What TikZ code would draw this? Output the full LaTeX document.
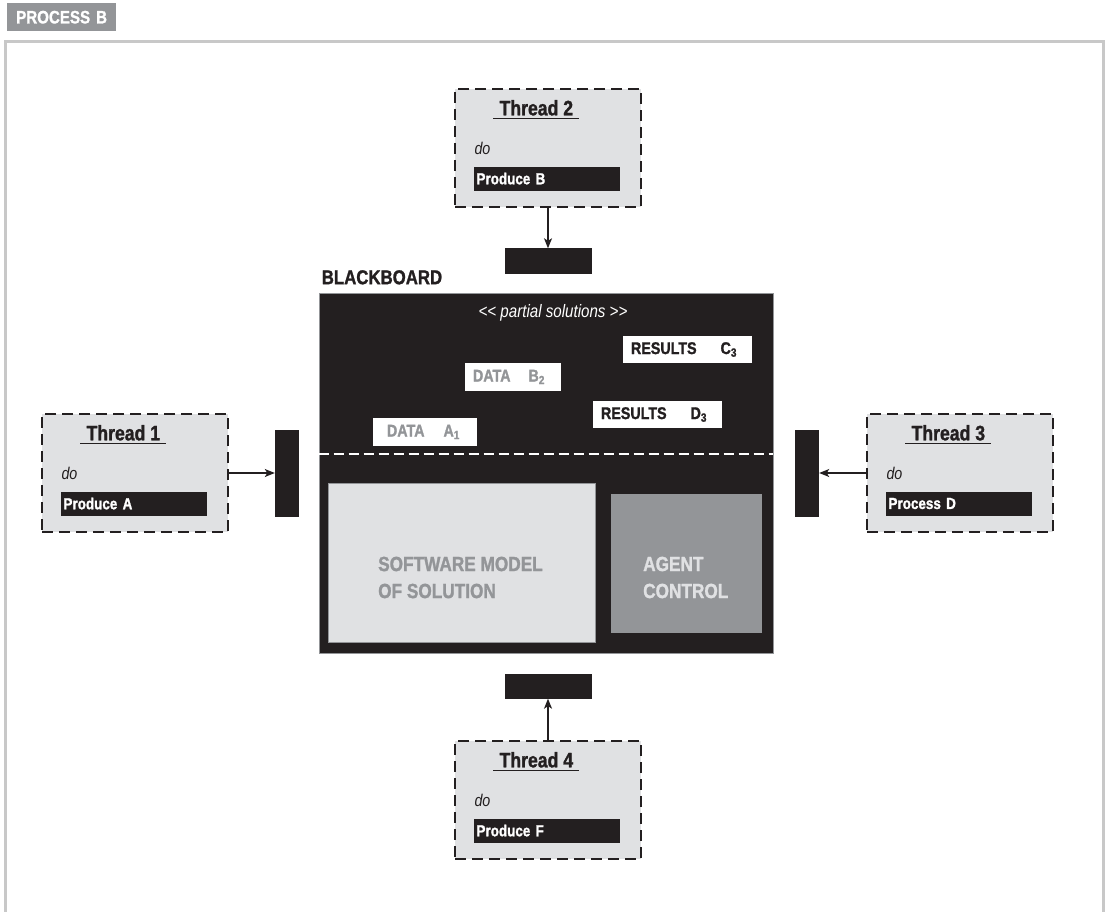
\documentclass[tikz,border=0pt]{standalone}
\usepackage{fontspec}
\setmainfont{Liberation Sans}[FakeStretch=0.84,BoldFeatures={FakeBold=1.3}]
\usetikzlibrary{arrows.meta,positioning}
\definecolor{bbdark}{HTML}{231F20}
\definecolor{bbgray}{HTML}{939598}
\definecolor{bblight}{HTML}{E0E1E3}
\definecolor{bbframe}{HTML}{C8C8C8}

\begin{document}
\begin{tikzpicture}[
  x=1pt, y=-1pt,
  >={Stealth[length=10pt,width=8pt,inset=2.5pt]},
  thread/.style={draw=bbdark,dash pattern=on 11pt off 6pt,line width=1.3pt,fill=bblight,minimum width=186pt,minimum height=118pt,inner sep=0pt},
  ttl/.style={font=\fontsize{21}{24}\selectfont\bfseries,text=bbdark,inner xsep=6pt,inner ysep=3pt},
  dolbl/.style={font=\fontsize{17}{20}\selectfont\itshape,text=bbdark,inner sep=0pt},
  task/.style={fill=bbdark,text=white,font=\fontsize{16}{19}\selectfont\bfseries,minimum height=24pt,text width=140pt,inner xsep=3pt,inner ysep=0pt,align=left},
  port/.style={fill=bbdark,minimum width=87pt,minimum height=25pt,inner sep=0pt},
  vport/.style={port,minimum width=24pt,minimum height=87pt},
  res/.style={fill=white,text=bbdark,font=\fontsize{17}{20}\selectfont\bfseries,minimum height=27pt,inner xsep=8pt,inner ysep=0pt,align=left},
  dat/.style={res,text=bbgray,minimum height=28pt},
  panel/.style={draw=bbgray,line width=.6pt,inner sep=0pt},
  paneltxt/.style={anchor=west,align=left,inner sep=0pt,font=\fontsize{20.5}{27}\selectfont\bfseries},
  flow/.style={->,line width=1.1pt,draw=bbdark}
]
\useasboundingbox (0,0) rectangle (1106,912);

% outer frame and process tag
\draw[bbframe,line width=3pt] (5.5,912) -- (5.5,41.5) -- (1103,41.5) -- (1103,912);
\node[fill=bbgray,text=white,font=\fontsize{18}{20}\selectfont\bfseries,anchor=north west,
  minimum height=28pt,text width=91pt,inner xsep=9pt,inner ysep=0pt,align=left] (proc) at (7,3) {PROCESS B};

% blackboard
\node[fill=bbdark,draw=bbgray,line width=.8pt,minimum width=454pt,minimum height=360pt,inner sep=0pt] (bb) at (546,473) {};
\node[above right=8pt and 3pt of bb.north west,inner sep=0pt,text=bbdark,font=\fontsize{20}{24}\selectfont\bfseries] (bblbl) {BLACKBOARD};
\node[anchor=base,text=white,font=\fontsize{18}{21}\selectfont\itshape] (partial) at (553,317) {<{}< partial solutions >{}>};
\draw[white,line width=1.3pt,dash pattern=on 10pt off 5pt] ([yshift=19pt]bb.west) -- ([yshift=19pt]bb.east);

\node[res,text width=113pt] (resC) at (687.5,349.5) {RESULTS\hspace{24pt}C\textsubscript{3}};
\node[dat,text width=80pt] (datB) at (513,377) {DATA\hspace{18pt}B\textsubscript{2}};
\node[res,text width=113pt] (resD) at (657.5,414.5) {RESULTS\hspace{24pt}D\textsubscript{3}};
\node[dat,text width=76pt,inner xsep=14pt] (datA) at (425,432) {DATA\hspace{19pt}A\textsubscript{1}};

\node[panel,fill=bblight,minimum width=267pt,minimum height=159pt] (model) at (461.5,562.5) {};
\node[paneltxt,text=bbgray] (modellbl) at (378,577.5) {SOFTWARE MODEL\\OF SOLUTION};
\node[panel,fill=bbgray,minimum width=150pt,minimum height=138pt] (agent) at (686,563) {};
\node[paneltxt,text=bblight] (agentlbl) at (643,577.5) {AGENT\\CONTROL};

% threads
\foreach \n/\cx/\cy/\job in {1/135/473/Produce A,2/548/148/Produce B,3/960/473/Process D,4/548/800/Produce F}{
  \node[thread] (th\n) at (\cx,\cy) {};
  \node[ttl,anchor=base] (t\n) at ([shift={(82,27)}]th\n.north west) {Thread \n};
  \draw[bbdark,line width=1.2pt] (t\n.south west) -- (t\n.south east);
  \node[dolbl,anchor=base west] (do\n) at ([shift={(20,66)}]th\n.north west) {do};
  \node[task,anchor=north west] (job\n) at ([shift={(19,78)}]th\n.north west) {\job};
}

% ports
\node[port] (pB) at (548,261) {};
\node[port] (pF) at (548,686) {};
\node[vport] (pA) at (287,473) {};
\node[vport] (pD) at (807,473) {};

\draw[flow] (th2.south) -- (pB.north);
\draw[flow] (th4.north) -- (pF.south);
\draw[flow] (th1.east) -- (pA.west);
\draw[flow] (th3.west) -- (pD.east);
\end{tikzpicture}
\end{document}
